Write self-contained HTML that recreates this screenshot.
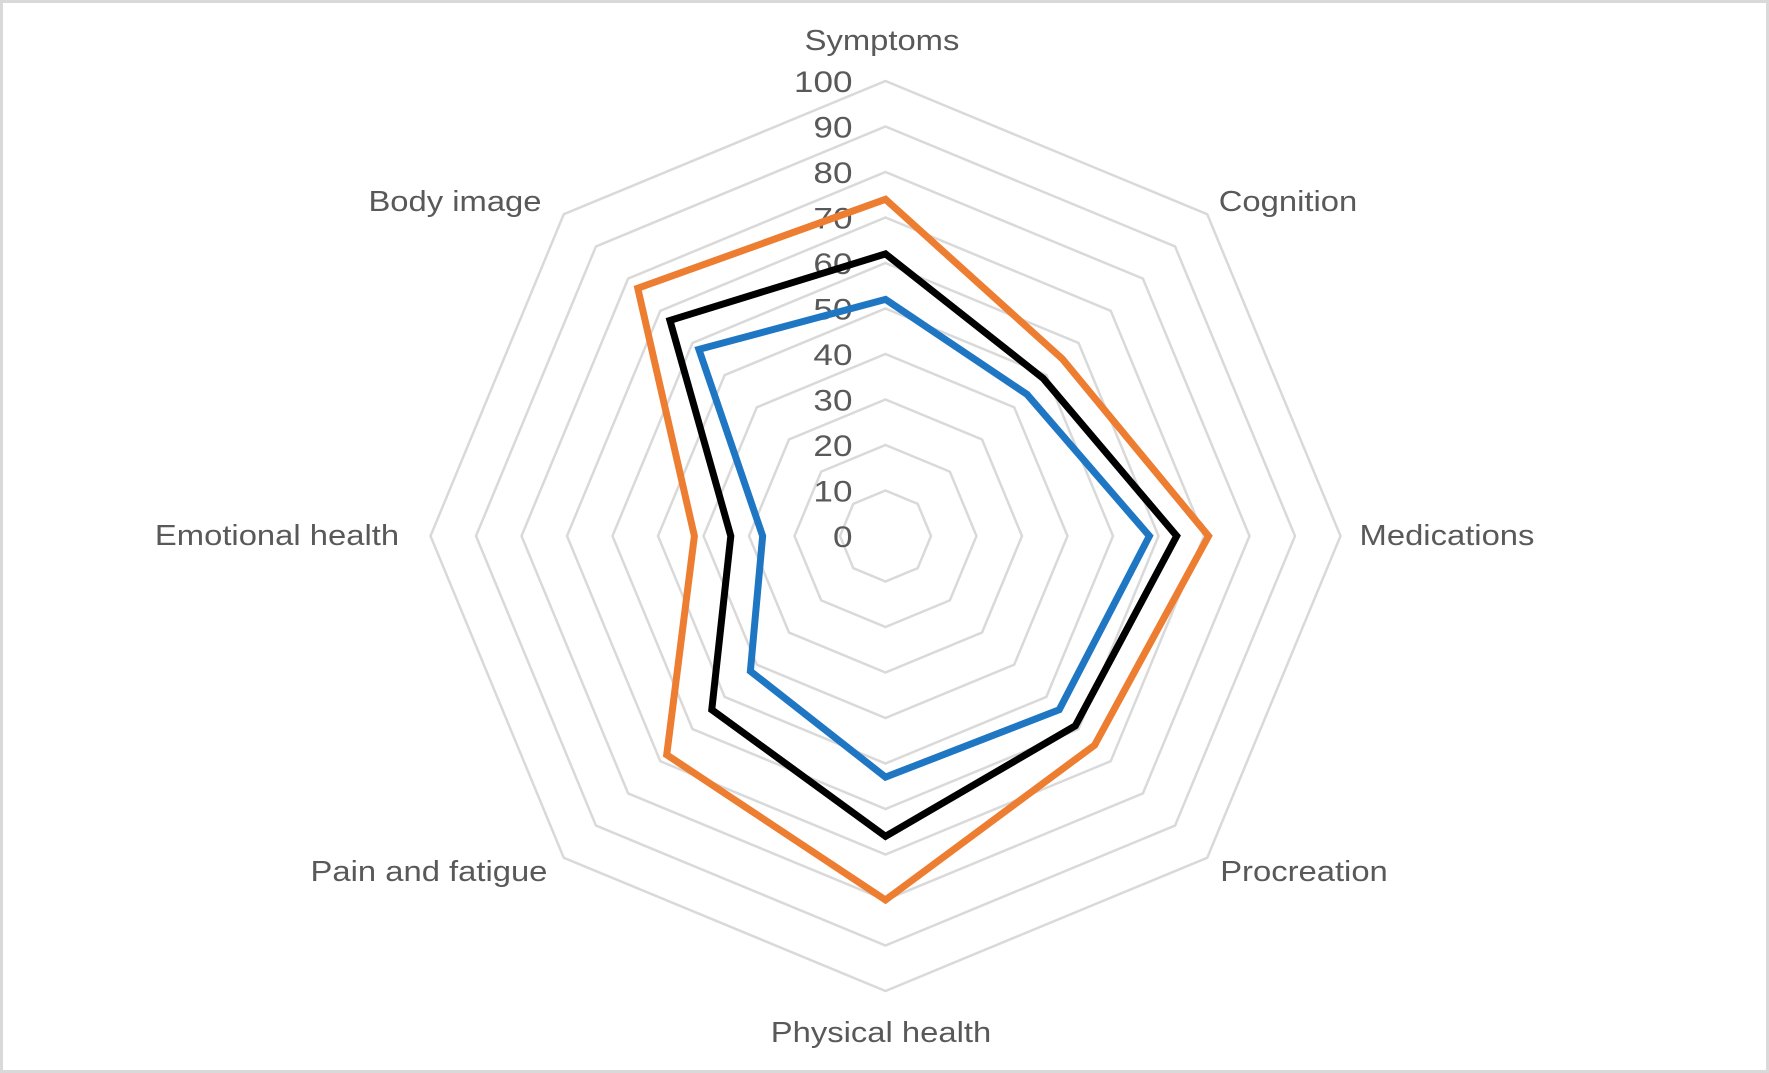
<!DOCTYPE html>
<html><head><meta charset="utf-8"><style>
html,body{margin:0;padding:0;background:#fff}
svg{display:block}
text{font-family:"Liberation Sans",sans-serif;fill:#595959}
</style></head><body>
<svg id="chart" width="1769" height="1073" viewBox="0 0 1769 1073" xmlns="http://www.w3.org/2000/svg">
<rect x="1.5" y="1.5" width="1766" height="1070" fill="#fff" stroke="#d9d9d9" stroke-width="3"/>
<g id="grid"></g><g id="ticks"></g><g id="series"></g><g id="labels"></g>
</svg>
<script>
const categories=["Symptoms","Cognition","Medications","Procreation","Physical health","Pain and fatigue","Emotional health","Body image"];
const seriesOrange=[74,55,71,65,80,68,42,77];
const seriesBlack=[62,49,64,59,66,54,34,67];
const seriesBlue=[52,44,58,54,53,42,27,58];
const tickValues=[0,10,20,30,40,50,60,70,80,90,100];
const cx=885.5,cy=536,R=455,maxV=100;
const NS="http://www.w3.org/2000/svg";
function ang(i){return -Math.PI/2+i*2*Math.PI/categories.length;}
function pt(i,v){const r=v/maxV*R;return [cx+r*Math.cos(ang(i)),cy+r*Math.sin(ang(i))];}
function mk(t,a,p){const e=document.createElementNS(NS,t);for(const k in a)e.setAttribute(k,a[k]);p.appendChild(e);return e;}
function stretch(e,f){const l=e.getComputedTextLength();if(l>0){e.setAttribute('textLength',l*f);e.setAttribute('lengthAdjust','spacingAndGlyphs');}}
const g=document.getElementById('grid');
tickValues.slice(1).forEach(v=>{
  const e=mk('polygon',{points:categories.map((c,i)=>pt(i,v).join(',')).join(' '),fill:'none',stroke:'#d9d9d9','stroke-width':2.5},g);
  
  
});
const tg=document.getElementById('ticks');
tickValues.forEach(v=>{
  const e=mk('text',{x:cx-33,y:cy-v/maxV*R+11,'text-anchor':'end','font-size':30},tg);
  e.textContent=v;
  
  
  stretch(e,1.17);
});
const sg=document.getElementById('series');
[[seriesBlue,'#1f77c4','series-blue'],[seriesBlack,'#000','series-black'],[seriesOrange,'#ed7d31','series-orange']].forEach(([d,c,n])=>{
  const e=mk('polygon',{points:d.map((v,i)=>pt(i,v).join(',')).join(' '),fill:'none',stroke:c,'stroke-width':7,'stroke-linejoin':'miter'},sg);
  
  
});
const lg=document.getElementById('labels');
const lpos=[[882,50,'middle'],[1288,211,'middle'],[1447,545,'middle'],[1304,881,'middle'],[881,1042,'middle'],[429,881,'middle'],[277,545,'middle'],[455,211,'middle']];
categories.forEach((c,i)=>{
  const e=mk('text',{x:lpos[i][0],y:lpos[i][1],'text-anchor':lpos[i][2],'font-size':29},lg);
  e.textContent=c;
  
  
  stretch(e,1.13);
});
</script>
</body></html>
